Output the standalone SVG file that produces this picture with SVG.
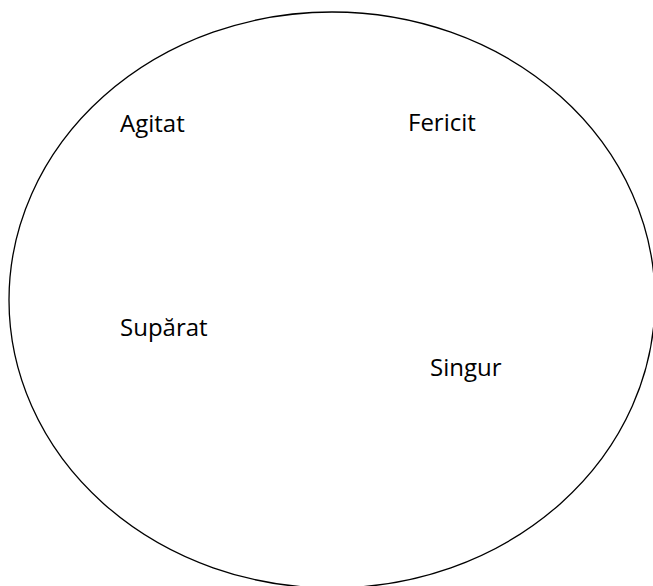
<svg xmlns="http://www.w3.org/2000/svg" width="653" height="586" viewBox="0 0 653 586">
<style>
.lbl{font-family:"Open Sans","Liberation Sans",sans-serif;font-size:24px;fill:#000}
.shape{fill:none;stroke:#000;stroke-width:1.3}
</style>
<rect width="653" height="586" fill="#fff"/>
<g id="ellipse"><ellipse class="shape" cx="332" cy="300" rx="323" ry="288"/></g>
<g id="agitat"><text class="lbl" x="120" y="132">Agitat</text></g>
<g id="fericit"><text class="lbl" x="408" y="131">Fericit</text></g>
<g id="suparat"><text class="lbl" x="120" y="336">Supărat</text></g>
<g id="singur"><text class="lbl" x="430" y="376">Singur</text></g>
</svg>
